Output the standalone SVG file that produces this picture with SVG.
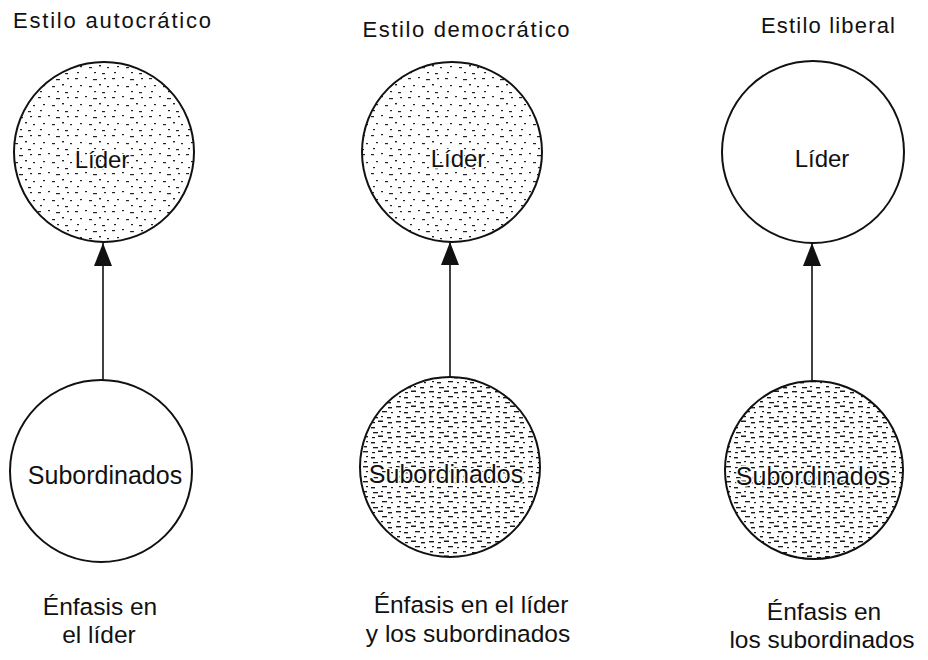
<svg xmlns="http://www.w3.org/2000/svg" width="928" height="660" viewBox="0 0 928 660">
  <style>
    .bg { fill: #ffffff; }
    .node { stroke: #111; stroke-width: 2; }
    .plain { fill: #ffffff; }
    .t { font-family: "Liberation Sans", Arial, sans-serif; fill: #111; text-anchor: middle; }
    .title { font-size: 22px; }
    .lbl { font-size: 24px; }
    .sub { font-size: 25px; }
    .cap { font-size: 24.5px; }
    .halo { paint-order: stroke; stroke: #ffffff; stroke-width: 3px; stroke-linejoin: round; }
    .edge { stroke: #111; stroke-width: 1.6; fill: none; }
  </style>
  <defs>
    <pattern id="lightDots" patternUnits="userSpaceOnUse" width="37" height="19">
      <rect width="37" height="19" fill="#ffffff"/>
      <g fill="#222">
        <rect x="1" y="2" width="3" height="1.2"/>
        <rect x="11" y="1" width="2" height="1.2"/>
        <rect x="19" y="3" width="4" height="1.2"/>
        <rect x="30" y="2" width="2" height="1.2"/>
        <rect x="6" y="9" width="2" height="1.2"/>
        <rect x="15" y="10" width="3" height="1.2"/>
        <rect x="25" y="8" width="2" height="1.4"/>
        <rect x="33" y="10" width="2" height="1.2"/>
        <rect x="3" y="15" width="2" height="1.2"/>
        <rect x="20" y="15" width="2" height="1.2"/>
        <rect x="28" y="16" width="3" height="1.2"/>
      </g>
    </pattern>
    <pattern id="denseDots" patternUnits="userSpaceOnUse" width="33" height="15">
      <rect width="33" height="15" fill="#ffffff"/>
      <g fill="#1a1a1a">
        <rect x="0" y="1" width="5" height="1.4"/>
        <rect x="9" y="2" width="3" height="1.2"/>
        <rect x="15" y="0.5" width="5" height="1.5"/>
        <rect x="25" y="2" width="4" height="1.4"/>
        <rect x="3" y="6" width="2" height="1.2"/>
        <rect x="8" y="7" width="4" height="1.4"/>
        <rect x="19" y="6" width="5" height="1.3"/>
        <rect x="28" y="7" width="2" height="1.2"/>
        <rect x="1" y="11" width="3" height="1.4"/>
        <rect x="10" y="12" width="5" height="1.3"/>
        <rect x="18" y="11" width="2" height="1.2"/>
        <rect x="24" y="12" width="4" height="1.4"/>
      </g>
    </pattern>
    <marker id="arrow" markerUnits="userSpaceOnUse" markerWidth="24" markerHeight="20" viewBox="0 0 24 20" refX="23" refY="10" orient="auto">
      <path d="M23 10 L0 1 L0 19 Z" fill="#111"/>
    </marker>
  </defs>

  <rect class="bg" x="0" y="0" width="928" height="660"/>

  <g id="connectors">
    <line class="edge" x1="103" y1="380" x2="103" y2="243" marker-end="url(#arrow)"/>
    <line class="edge" x1="450" y1="377" x2="450" y2="242" marker-end="url(#arrow)"/>
    <line class="edge" x1="812" y1="381" x2="812" y2="243" marker-end="url(#arrow)"/>
  </g>

  <g id="col-autocratico">
    <text id="title-autocratico" class="t title" x="112" y="28" textLength="198" lengthAdjust="spacing">Estilo autocrático</text>
    <g id="lider-autocratico">
      <circle class="node" cx="104" cy="152" r="90" fill="url(#lightDots)"/>
      <text class="t lbl halo" x="102" y="168">Líder</text>
    </g>
    <g id="sub-autocratico">
      <circle class="node plain" cx="101" cy="471" r="91"/>
      <text class="t sub" x="105" y="484">Subordinados</text>
    </g>
    <text id="cap-autocratico" class="t cap"><tspan x="100" y="615">Énfasis en</tspan><tspan x="99" y="643">el líder</tspan></text>
  </g>

  <g id="col-democratico">
    <text id="title-democratico" class="t title" x="466" y="37" textLength="207" lengthAdjust="spacing">Estilo democrático</text>
    <g id="lider-democratico">
      <circle class="node" cx="452" cy="152" r="90" fill="url(#lightDots)"/>
      <text class="t lbl halo" x="458" y="167">Líder</text>
    </g>
    <g id="sub-democratico">
      <circle class="node" cx="450" cy="467" r="90" fill="url(#denseDots)"/>
      <text class="t sub halo" x="446" y="483">Subordinados</text>
    </g>
    <text id="cap-democratico" class="t cap"><tspan x="471" y="613">Énfasis en el líder</tspan><tspan x="468" y="642">y los subordinados</tspan></text>
  </g>

  <g id="col-liberal">
    <text id="title-liberal" class="t title" x="828" y="33" textLength="134" lengthAdjust="spacing">Estilo liberal</text>
    <g id="lider-liberal">
      <circle class="node plain" cx="813" cy="152" r="91"/>
      <text class="t lbl" x="822" y="167">Líder</text>
    </g>
    <g id="sub-liberal">
      <circle class="node" cx="814" cy="470" r="89" fill="url(#denseDots)"/>
      <text class="t sub halo" x="813" y="485">Subordinados</text>
    </g>
    <text id="cap-liberal" class="t cap"><tspan x="824" y="620">Énfasis en</tspan><tspan x="822" y="648">los subordinados</tspan></text>
  </g>
</svg>
